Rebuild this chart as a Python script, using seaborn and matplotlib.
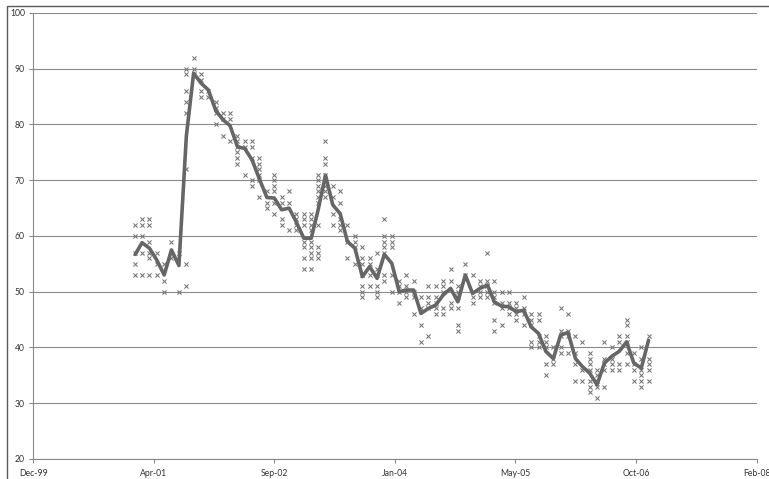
import matplotlib
matplotlib.use('Agg')
import matplotlib.pyplot as plt
import matplotlib.dates as mdates
from matplotlib.patches import Rectangle
import pandas as pd
import seaborn as sns


# DATA

months = pd.date_range('2001-02-01', periods=71, freq='MS')

# monthly average (the thick line)
monthly_avg = [
    56.7, 58.8, 57.8, 55.7, 53.0, 57.5, 54.7, 78.0, 89.2, 87.4, 86.2,   # Feb01 - Dec01
    82.5, 80.8, 79.8, 76.0, 75.7, 73.6, 70.2, 66.9, 66.8, 64.7, 65.0, 62.5,   # 2002
    59.6, 59.6, 64.6, 70.9, 65.6, 64.0, 59.0, 57.8, 52.7, 54.5, 52.4, 56.7,   # 2003
    55.1, 50.0, 50.3, 50.3, 46.1, 47.0, 47.6, 49.4, 50.6, 48.2, 53.0, 49.7,   # 2004
    50.6, 51.2, 48.2, 47.4, 47.3, 46.4, 46.7, 43.7, 42.5, 39.3, 38.0, 42.2,   # 2005
    42.7, 38.0, 36.6, 35.4, 33.3, 37.2, 38.4, 39.3, 41.0, 37.2, 36.3, 41.3,   # 2006
]

# individual poll results, one list per month
poll_values = [
    [62, 60, 57, 55, 53], [63, 62, 60, 57, 53], [63, 62, 59, 57, 56, 53],
    [57, 55, 53], [55, 52, 50], [59, 56], [57, 50],
    [90, 89, 86, 84, 82, 72, 55, 51], [92, 90, 89], [89, 88, 86, 85], [86, 85],
    [84, 83, 82, 80], [82, 81, 78], [82, 81, 77], [78, 77, 76, 75, 74, 73],
    [77, 76, 71], [77, 76, 74, 70, 69], [74, 73, 72, 71, 70, 67], [68, 66, 65],
    [71, 70, 69, 68, 66, 64], [67, 66, 63, 62], [68, 66, 61], [64, 63, 62, 61],
    [64, 63, 62, 59, 58, 56, 54], [64, 63, 62, 61, 59, 58, 57, 56, 54],
    [71, 70, 69, 68, 67, 66, 62, 58, 57, 56], [77, 74, 73, 71, 70, 69, 68, 67],
    [69, 67, 64, 62], [68, 66, 63, 62, 61], [62, 59, 56], [60, 59, 58, 55],
    [58, 56, 55, 53, 51, 50, 49], [56, 55, 53, 51], [57, 54, 53, 51, 50, 49],
    [63, 60, 59, 58, 57, 53, 52],
    [60, 59, 58, 53, 50], [52, 51, 50, 48], [53, 51, 50, 49], [52, 50, 49, 46],
    [49, 47, 44, 41], [51, 49, 48, 47, 42], [51, 49, 48, 47, 46],
    [52, 51, 50, 47, 46], [54, 52, 48, 47], [51, 50, 49, 47, 44, 43], [55, 53],
    [53, 49, 48],
    [52, 51, 50, 49], [57, 52, 51, 50, 49], [52, 50, 49, 48, 45, 43],
    [50, 48, 47, 44], [50, 48, 47, 46], [48, 47, 46, 45], [49, 47, 46, 44],
    [46, 45, 44, 41, 40], [46, 45, 42, 41, 40], [42, 41, 40, 37, 35], [40, 38, 37],
    [47, 43, 42, 40, 39],
    [46, 43, 42, 39], [42, 39, 37, 34], [41, 36, 34], [39, 38, 37, 36, 34, 33, 32],
    [36, 35, 34, 33, 31], [41, 38, 37, 36, 33], [40, 38, 37, 36], [42, 41, 37, 36],
    [45, 44, 42, 41, 39, 37], [39, 37, 36, 34], [40, 38, 36, 35, 34, 33],
    [42, 38, 37, 36, 34],
]

x_ticks = ['1999-12-06', '2001-04-19', '2002-09-01', '2004-01-14',
           '2005-05-28', '2006-10-10', '2008-02-22']
y_ticks = [20, 30, 40, 50, 60, 70, 80, 90, 100]

polls = pd.DataFrame({
    'Month': [m for m, vals in zip(months, poll_values) for _ in vals],
    'Approval': [v for vals in poll_values for v in vals],
})
averages = pd.DataFrame({'Month': months, 'Approval': monthly_avg})


# PLOT

sns.set_style('white')
plt.rcParams['font.family'] = ['Lato', 'DejaVu Sans']

fig = plt.figure(figsize=(7.69, 4.79), dpi=100)
ax = fig.add_axes([0.0433, 0.0418, 0.9405, 0.9311])

grid_color = '#8a8a8a'

sns.scatterplot(data=polls, x='Month', y='Approval', marker='x', s=9,
                color='#767676', linewidth=0.75, ax=ax, zorder=3)
sns.lineplot(data=averages, x='Month', y='Approval', color='#666666',
             linewidth=2.6, ax=ax, zorder=4)

ax.set_xlim(pd.Timestamp(x_ticks[0]), pd.Timestamp(x_ticks[-1]))
ax.set_ylim(20, 100)
ax.set_xticks(pd.to_datetime(x_ticks))
ax.xaxis.set_major_formatter(mdates.DateFormatter('%b-%y'))
ax.set_yticks(y_ticks)

ax.yaxis.grid(True, color=grid_color, linewidth=0.8)
ax.xaxis.grid(False)
ax.set_axisbelow(True)
for side in ['top', 'right']:
    ax.spines[side].set_visible(False)
for side in ['left', 'bottom']:
    ax.spines[side].set_color(grid_color)
    ax.spines[side].set_linewidth(0.8)

ax.tick_params(axis='both', direction='out', length=3, width=0.8,
               color=grid_color, labelsize=6.2, labelcolor='#333333', pad=3)
ax.tick_params(axis='x', bottom=True, pad=4)
ax.tick_params(axis='y', left=True)
ax.set_xlabel('')
ax.set_ylabel('')

# chart area border
fig.patches.append(Rectangle((7 / 769, -0.1), 1.0, 1.1 - 6 / 479,
                             transform=fig.transFigure, fill=False,
                             edgecolor='#5a5a5a', linewidth=1.0))

fig.savefig('out.png', dpi=100)
